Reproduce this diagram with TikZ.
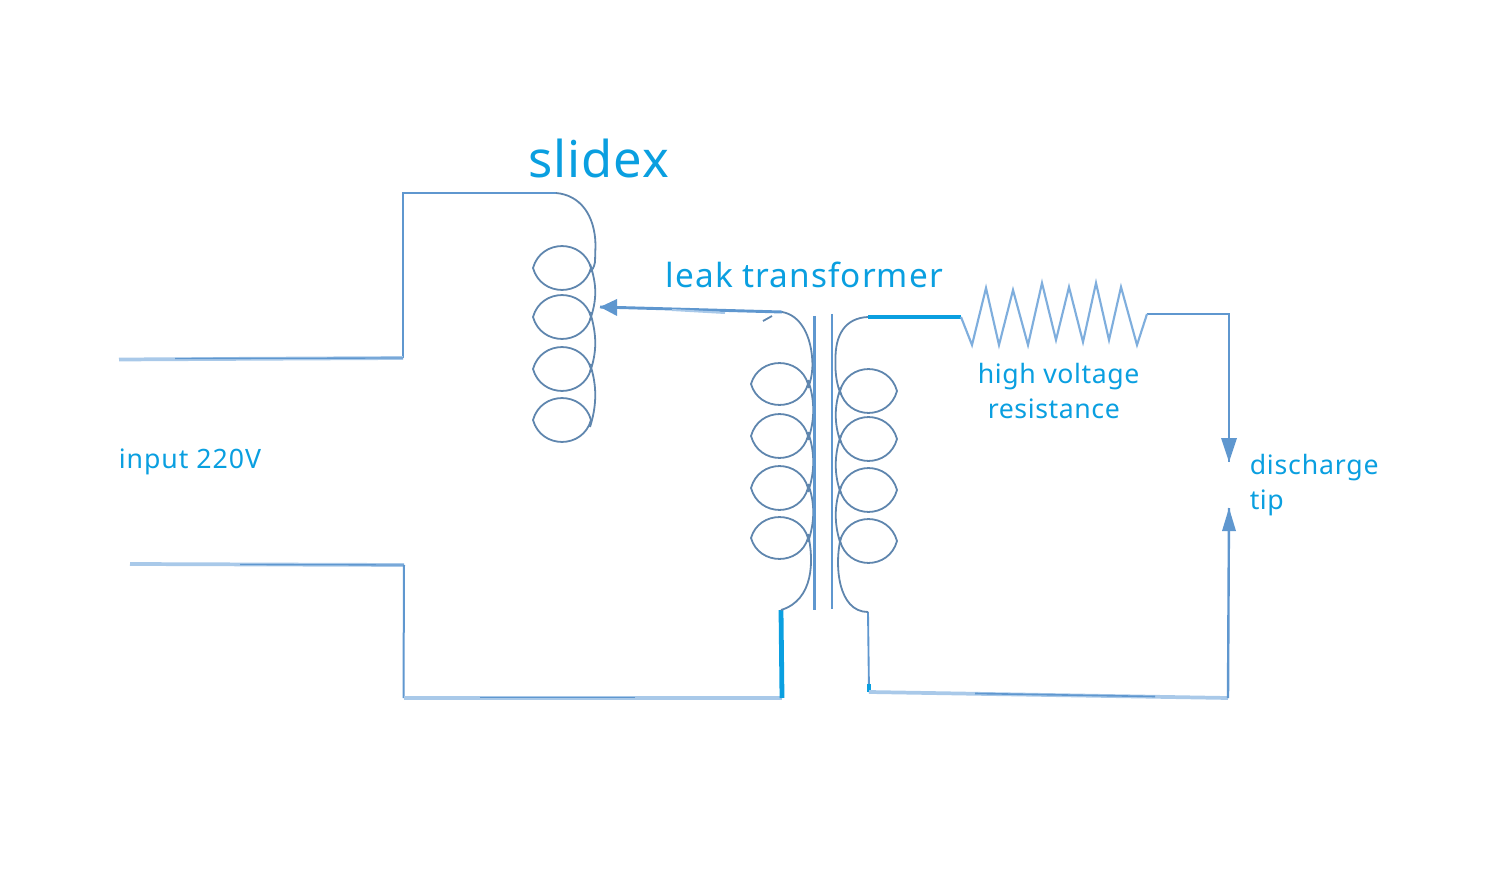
\documentclass[tikz,border=0pt]{standalone}
\usepackage{fontspec}
\setmainfont{Noto Sans}
\definecolor{txtblue}{HTML}{0A9FE0}
\definecolor{wireblue}{HTML}{5F97CF}
\definecolor{lightwire}{HTML}{A9C9E9}
\definecolor{coilblue}{HTML}{5F86AE}
\definecolor{resblue}{HTML}{7FAEDD}
\tikzset{
  wire/.style={draw=wireblue,line width=1.7pt,line join=miter},
  softwire/.style={draw=lightwire,line width=2.8pt},
  thickwire/.style={draw=txtblue,line width=3pt},
  coil/.style={draw=coilblue,line width=1.35pt},
  core/.style={draw=wireblue},
  res/.style={draw=resblue,line width=1.6pt,line join=miter},
  tip/.style={fill=wireblue,draw=none},
  lab/.style={text=txtblue,inner sep=0pt,anchor=base west}
}
\newcommand{\lensshape}[4]{% left x, cy, right x, half height
  \pgfmathsetmacro{\lensL}{#1}\pgfmathsetmacro{\lensR}{#3}
  \pgfmathsetmacro{\lensW}{\lensR-\lensL}
  \pgfmathsetmacro{\lensA}{\lensL+0.14*\lensW}\pgfmathsetmacro{\lensB}{\lensL+0.86*\lensW}
  \pgfmathsetmacro{\lensH}{#4*1.33}
  \draw[coil] (\lensL,#2) .. controls (\lensA,#2-\lensH) and (\lensB,#2-\lensH) .. (\lensR,#2)
     .. controls (\lensB,#2+\lensH) and (\lensA,#2+\lensH) .. cycle;
}
\begin{document}
\begin{tikzpicture}[x=0.75pt,y=-0.75pt]
\useasboundingbox (0,0) rectangle (1496,877);
% named wire points
\coordinate (inTop) at (119,359.5);
\coordinate (inTopC) at (403,358);
\coordinate (slTopC) at (403,193);
\coordinate (slTop) at (556,193);
\coordinate (inBot) at (130,564);
\coordinate (inBotC) at (404,565);
\coordinate (botC) at (403.5,698);
\coordinate (priBot) at (782,698);
\coordinate (priEnd) at (781,610);
\coordinate (priTop) at (782,312);
\coordinate (wiper) at (600,307);
\coordinate (secTop) at (868,317);
\coordinate (resL) at (961,317);
\coordinate (resR) at (1147,314);
\coordinate (cornerR) at (1229,314);
\coordinate (tipA) at (1229,462);
\coordinate (tipB) at (1229,508);
\coordinate (cornerB) at (1228,698);
\coordinate (secBot) at (869,692);
\coordinate (secEnd) at (868,612);
% wires
\draw[wire,line width=1.3pt] (inTopC) -- (slTopC) -- (slTop);
\draw[softwire] (inTop) -- (inTopC);
\draw[wire,line width=1pt] (175,358.5) -- (inTopC);
\draw[softwire] (inBot) -- (inBotC);
\draw[wire,line width=1pt] (240,564.5) -- (inBotC);
\draw[wire,line width=1.5pt] (inBotC) -- (botC);
\draw[softwire] (botC) -- (priBot);
\draw[wire,line width=1.2pt] (480,697.5) -- (635,697.5);
\draw[thickwire,line width=3.6pt] (priEnd) -- (priBot);
\draw[wire,line width=1.4pt] (secEnd) -- (secBot);
\draw[wire,line width=3pt,draw=txtblue] (869,684) -- (secBot);
\draw[softwire] (secBot) -- (cornerB);
\draw[wire,line width=1.2pt] (975,693.5) -- (1155,696.5);
\draw[wire,line width=1.8pt] (cornerB) -- (tipB);
\draw[tip] (tipB) -- (1236,531) -- (1222,531) -- cycle;
\draw[wire,line width=2pt] (resR) -- (cornerR) -- (tipA);
\draw[tip] (tipA) -- (1221,438) -- (1237,438) -- cycle;
\draw[thickwire] (secTop) -- (resL);
% wiper arrow
\draw[wire,line width=2.2pt] (priTop) -- (wiper);
\draw[tip] (wiper) -- (617,299) -- (617,316) -- cycle;
\draw[softwire,line width=1.5pt] (672,310) -- (725,313);
% resistor
\draw[res] (resL) -- (972,345) -- (986,288) -- (999,345) -- (1013,290) -- (1028,345)
  -- (1042,283) -- (1056,340) -- (1069,287) -- (1083,342) -- (1096,283) -- (1109,340)
  -- (1121,287) -- (1137,345) -- (resR);
% slidex coil
\draw[coil] (slTop) .. controls (580,195) and (595,215) .. (595.5,245) -- (595,262)
  .. controls (594,268) and (592,270) .. (590,272)
  (590,264) .. controls (597,285) and (597,300) .. (590,320)
  (590,312) .. controls (597,335) and (597,352) .. (590,372)
  (590,364) .. controls (597,385) and (597,405) .. (590,427);
\lensshape{533}{268}{591}{22}
\lensshape{533}{317}{591}{22}
\lensshape{533}{369}{591}{22}
\lensshape{533}{420}{591}{22}
% primary coil
\draw[coil] (763,321) -- (772,316) (priTop) .. controls (800,315) and (812,335) .. (812.5,365)
  .. controls (812,375) and (811,380) .. (808,388)
  (808,380) .. controls (815,400) and (815,420) .. (808,440)
  (808,432) .. controls (815,452) and (815,472) .. (808,492)
  (808,484) .. controls (815,502) and (815,522) .. (808,542)
  (808,534) .. controls (814,560) and (814,600) .. (priEnd);
\lensshape{751}{384}{808}{21}
\lensshape{751}{436}{808}{22}
\lensshape{751}{488}{808}{22}
\lensshape{751}{538}{808}{21}
% secondary coil
\draw[coil] (secTop) .. controls (845,318) and (835,335) .. (835.5,360)
  .. controls (835,375) and (837,385) .. (841,395)
  (841,387) .. controls (834,405) and (834,425) .. (841,443)
  (841,435) .. controls (834,455) and (834,475) .. (841,494)
  (841,486) .. controls (834,505) and (834,525) .. (841,545)
  (841,537) .. controls (834,565) and (838,612) .. (secEnd);
\lensshape{840}{391}{897}{22}
\lensshape{840}{439}{897}{22}
\lensshape{840}{490}{897}{22}
\lensshape{840}{541}{897}{22}
% core
\draw[core,line width=2.2pt] (814.5,316) -- (814.5,610);
\draw[core,line width=1.6pt] (832,314) -- (832,609);
% labels
\node[lab,font=\fontsize{38}{38}\selectfont\addfontfeature{LetterSpace=2}] (slidex) at (528,178) {slidex};
\node[lab,font=\fontsize{25}{25}\selectfont\addfontfeature{LetterSpace=3.2}] (leak) at (665.5,288) {leak transformer};
\node[lab,font=\fontsize{20}{20}\selectfont\addfontfeature{LetterSpace=2.2}] (hv) at (977.5,383) {high voltage};
\node[lab,font=\fontsize{20}{20}\selectfont\addfontfeature{LetterSpace=2.2}] (resist) at (987.5,418) {resistance};
\node[lab,font=\fontsize{20}{20}\selectfont\addfontfeature{LetterSpace=3.6}] (input) at (118.5,468) {input 220V};
\node[lab,font=\fontsize{20}{20}\selectfont\addfontfeature{LetterSpace=3}] (dis) at (1249.5,474) {discharge};
\node[lab,font=\fontsize{20}{20}\selectfont\addfontfeature{LetterSpace=2}] (tiplab) at (1249.5,509) {tip};
\end{tikzpicture}
\end{document}
